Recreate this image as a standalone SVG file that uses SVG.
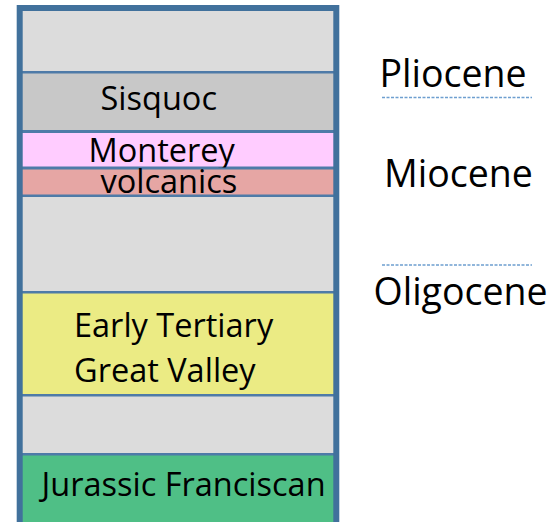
<svg xmlns="http://www.w3.org/2000/svg" width="557" height="522" viewBox="0 0 557 522">
<style>
.layer{stroke:#4E7BA8;stroke-width:2}
.lbl{font-family:"Open Sans","Liberation Sans",sans-serif;font-size:32.5px;fill:#000}
.era{font-family:"Open Sans","Liberation Sans",sans-serif;font-size:37.5px;fill:#000}
.div{stroke:#6E9FD0;stroke-width:1.5;stroke-dasharray:3 1.5;fill:none}
</style>
<rect width="557" height="522" fill="#FFFFFF"/>
<g id="column">
<g id="layer-top"><rect class="layer" x="21" y="9" width="314" height="63" fill="#DCDCDC"/></g>
<g id="layer-sisquoc"><rect class="layer" x="21" y="72.5" width="314" height="58.5" fill="#C8C8C8"/><text class="lbl" x="100.5" y="110">Sisquoc</text></g>
<g id="layer-monterey"><rect class="layer" x="21" y="132" width="314" height="35.5" fill="#FFCCFF"/><text class="lbl" x="88.5" y="161.5">Monterey</text></g>
<g id="layer-volcanics"><rect class="layer" x="21" y="168.5" width="314" height="27" fill="#E6A6A4"/><text class="lbl" x="100.5" y="193">volcanics</text></g>
<g id="layer-gray2"><rect class="layer" x="21" y="196" width="314" height="96" fill="#DCDCDC"/></g>
<g id="layer-greatvalley"><rect class="layer" x="21" y="292.5" width="314" height="102.5" fill="#EBEB84"/><text class="lbl" x="74" y="337">Early Tertiary</text><text class="lbl" x="74" y="382">Great Valley</text></g>
<g id="layer-gray3"><rect class="layer" x="21" y="395.5" width="314" height="58.5" fill="#DCDCDC"/></g>
<g id="layer-franciscan"><rect class="layer" x="21" y="454.5" width="314" height="75" fill="#4FBF86"/><text class="lbl" x="41.5" y="496">Jurassic Franciscan</text></g>
<rect id="frame" x="19.7" y="8" width="316.6" height="530" fill="none" stroke="#41719C" stroke-width="6"/>
</g>
<g id="connectors">
<line class="div" x1="382" y1="97.5" x2="532" y2="97.5"/>
<line class="div" x1="382" y1="265" x2="532" y2="265"/>
</g>
<g id="eras">
<text class="era" x="379.5" y="87">Pliocene</text>
<text class="era" x="384" y="187">Miocene</text>
<text class="era" x="373.5" y="305">Oligocene</text>
</g>
</svg>
